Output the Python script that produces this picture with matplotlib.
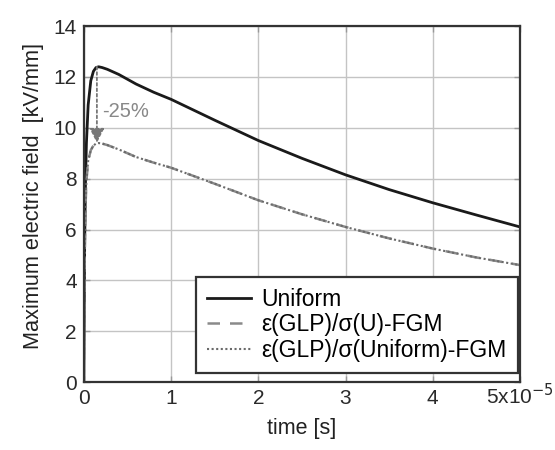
import numpy as np
import matplotlib
matplotlib.use("Agg")
import matplotlib.pyplot as plt

plt.rcParams['font.family'] = ['Liberation Sans', 'DejaVu Sans']

# time in units of 1e-5 s
time = [0, 0.005, 0.01, 0.02, 0.03, 0.05, 0.08, 0.11, 0.14, 0.17, 0.21, 0.27, 0.4, 0.6, 0.8, 1.0,
        1.5, 2.0, 2.5, 3.0, 3.5, 4.0, 4.5, 5.0]
uniform = [0, 3.0, 5.5, 8.0, 9.4, 10.9, 11.85, 12.22, 12.37, 12.4, 12.37, 12.3, 12.1, 11.72, 11.4, 11.12,
           10.3, 9.5, 8.8, 8.15, 7.57, 7.05, 6.57, 6.1]
fgm_u = [0, 2.5, 4.8, 6.9, 7.9, 8.7, 9.12, 9.3, 9.38, 9.4, 9.38, 9.32, 9.15, 8.85, 8.63, 8.43,
         7.8, 7.15, 6.6, 6.1, 5.65, 5.25, 4.9, 4.6]
fgm_uniform = fgm_u
xticks = [0, 1, 2, 3, 4, 5]
xticklabels = ['0', '1', '2', '3', '4', '5x10$^{-5}$']
yticks = [0, 2, 4, 6, 8, 10, 12, 14]
labels = ['Uniform', 'ε(GLP)/σ(U)-FGM', 'ε(GLP)/σ(Uniform)-FGM']
annot_text = '-25%'

fig = plt.figure(figsize=(5.55, 4.5), dpi=100)
ax = fig.add_axes([0.151, 0.151, 0.786, 0.791])

ax.plot(time, uniform, color='#1a1a1a', lw=2.0, label=labels[0])
ax.plot(time, fgm_u, color='#8a8a8a', lw=1.8, ls=(0, (5, 4)), label=labels[1])
ax.plot(time, fgm_uniform, color='#6a6a6a', lw=1.5, ls=(0, (1, 1.2)), label=labels[2])

ipk = int(np.argmax(uniform))
tp = time[ipk] - 0.02
ax.annotate('', xy=(tp, max(fgm_u)), xytext=(tp, max(uniform)),
            arrowprops=dict(arrowstyle='-|>', linestyle=(0, (1.5, 1.5)), color='#777777',
                            lw=1.3, mutation_scale=22, shrinkA=0, shrinkB=0))
ax.text(tp + 0.06, (max(uniform) + max(fgm_u)) / 2 - 0.25, annot_text, color='#888888',
        fontsize=14.5, va='center', ha='left')

ax.set_xlim(0, 5)
ax.set_ylim(0, 14)
ax.set_xticks(xticks)
ax.set_xticklabels(xticklabels)
ax.set_yticks(yticks)
ax.grid(True, color='#c4c4c4', lw=1.0)
ax.set_axisbelow(True)
for s in ax.spines.values():
    s.set_color('#333333')
    s.set_linewidth(1.6)
ax.tick_params(direction='in', length=4, width=1, colors='#999999', labelcolor='#2a2a2a',
               labelsize=15, top=True, right=True, pad=5)
ax.tick_params(axis='x', pad=16)
for lbl in ax.get_xticklabels():
    lbl.set_verticalalignment('baseline')
ax.set_xlabel('time [s]', fontsize=15.5, color='#222222', labelpad=7)
ax.set_ylabel('Maximum electric field  [kV/mm]', fontsize=15.7, color='#222222')
ax.yaxis.set_label_coords(-0.092, 0.522)

leg = ax.legend(loc='lower right', bbox_to_anchor=(0.995, 0.025), fontsize=16.5,
                frameon=True, fancybox=False,
                edgecolor='#333333', framealpha=1, handlelength=1.9, borderaxespad=0,
                labelspacing=0.1, handletextpad=0.45, borderpad=0.5)
leg.get_frame().set_linewidth(1.6)

fig.savefig('out.png', dpi=100)
